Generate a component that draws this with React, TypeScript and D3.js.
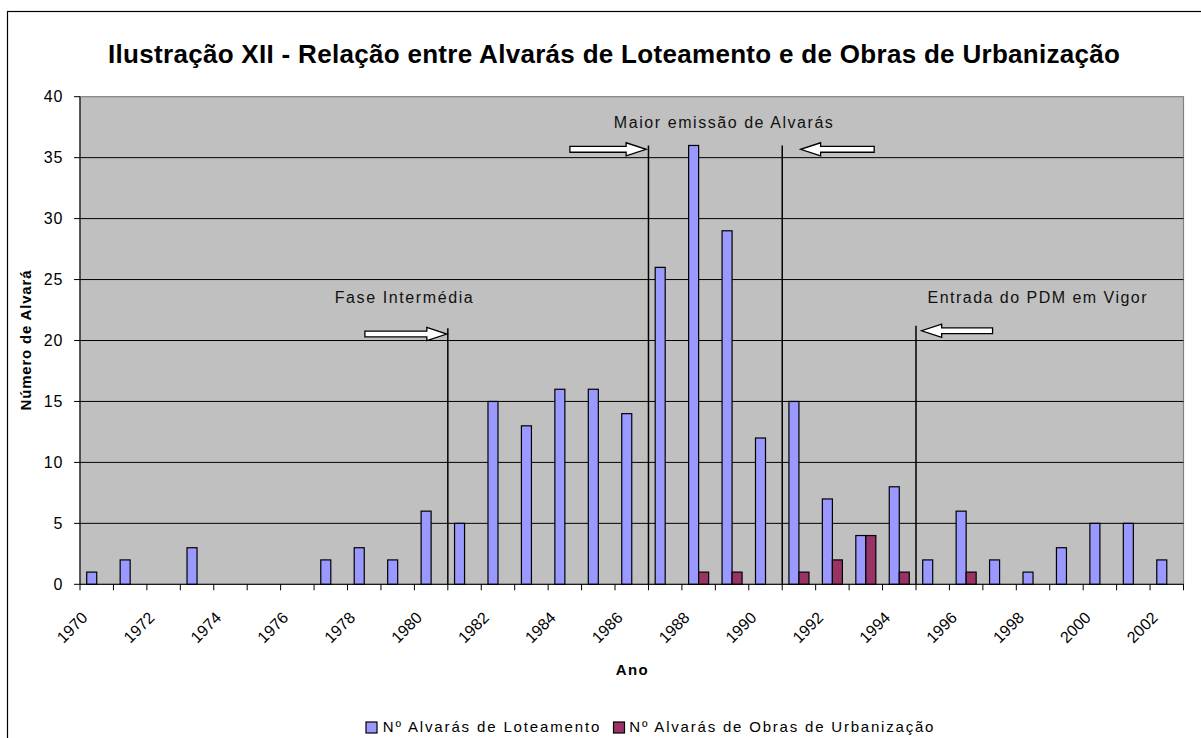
import React from 'react';
import * as d3 from 'd3';

const years = ['1970','1971','1972','1973','1974','1975','1976','1977','1978','1979','1980','1981','1982','1983','1984','1985','1986','1987','1988','1989','1990','1991','1992','1993','1994','1995','1996','1997','1998','1999','2000','2001','2002'];
const loteamento = [1,2,0,3,0,0,0,2,3,2,6,5,15,13,16,16,14,26,36,29,12,15,7,4,8,2,6,2,1,3,5,5,2];
const obras = [0,0,0,0,0,0,0,0,0,0,0,0,0,0,0,0,0,0,1,1,0,1,2,4,1,0,1,0,0,0,0,0,0];
const seriesNames = ['Nº Alvarás de Loteamento', 'Nº Alvarás de Obras de Urbanização'];
const seriesColors = ['#9999FF', '#993366'];
const yTicks = [0,5,10,15,20,25,30,35,40];
const xLabelYears = ['1970','1972','1974','1976','1978','1980','1982','1984','1986','1988','1990','1992','1994','1996','1998','2000','2002'];

const title = 'Ilustração XII - Relação entre Alvarás de Loteamento e de Obras de Urbanização';
const yTitle = 'Número de Alvará';
const xTitle = 'Ano';

// annotation data in (category-index units, value units)
const annoLines = [
  { at: 11, top: 21.0 },
  { at: 17, top: 36.0 },
  { at: 21, top: 36.0 },
  { at: 25, top: 21.2 },
];
const annoArrows = [
  { from: 8.52, to: 10.97, y: 20.53 },
  { from: 14.65, to: 16.93, y: 35.68 },
  { from: 23.75, to: 21.55, y: 35.68 },
  { from: 27.29, to: 25.17, y: 20.8 },
];
const annoTexts = [
  { text: 'Fase Intermédia', x: 9.68, y: 23.1, len: 138 },
  { text: 'Maior emissão de Alvarás', x: 19.24, y: 37.46, len: 219 },
  { text: 'Entrada do PDM em Vigor', x: 28.62, y: 23.05, len: 219 },
];

const W = 1201, H = 738;
const left = 80, right = 1183.5, top = 96.7, bottom = 584.3;
const FONT = 'Arial, "Liberation Sans", sans-serif';

export default function App() {
  const x0 = d3.scaleBand<string>().domain(years).range([left, right]).paddingInner(0).paddingOuter(0);
  const x1 = d3.scaleBand<string>().domain(seriesNames).range([0, x0.bandwidth()]).paddingInner(0).paddingOuter(0.67);
  const xu = d3.scaleLinear().domain([0, years.length]).range([left, right]);
  const y = d3.scaleLinear().domain([0, 40]).range([bottom, top]);
  const data = [loteamento, obras];

  const arrowPath = (a: { from: number; to: number; y: number }) => {
    const xs = xu(a.from), xe = xu(a.to), yc = y(a.y);
    const dir = xe > xs ? 1 : -1;
    const headLen = 20, sh = 2.9, hh = 6.6;
    const xb = xe - dir * headLen;
    return `M${xs},${yc - sh}L${xb},${yc - sh}L${xb},${yc - hh}L${xe},${yc}L${xb},${yc + hh}L${xb},${yc + sh}L${xs},${yc + sh}Z`;
  };

  const boundaries = d3.range(years.length + 1);

  return (
    <div style={{ position: 'absolute', left: 0, top: 0 }}>
      <svg width={W} height={H} style={{ display: 'block', background: '#fff' }} fontFamily={FONT}>
        {/* chart frame */}
        <rect x={7.5} y={11.5} width={1400} height={900} fill="#fff" stroke="#000" strokeWidth={1.2} />
        {/* title */}
        <text x={614} y={63.3} textAnchor="middle" fontSize={26} fontWeight="bold" textLength={1012} lengthAdjust="spacing">{title}</text>
        {/* plot area */}
        <rect x={left} y={top} width={right - left} height={bottom - top} fill="#C0C0C0" stroke="#808080" strokeWidth={1.2} />
        {yTicks.filter(t => t > 0 && t < 40).map(t => (
          <line key={'g' + t} x1={left} x2={right} y1={y(t)} y2={y(t)} stroke="#000" strokeWidth={1} />
        ))}
        {/* bars */}
        {data.map((vals, si) => vals.map((v, i) => v > 0 ? (
          <rect key={si + '-' + i}
            x={(x0(years[i]) as number) + (x1(seriesNames[si]) as number)}
            y={y(v)} width={x1.bandwidth()} height={y(0) - y(v)}
            fill={seriesColors[si]} stroke="#000" strokeWidth={1.2} />
        ) : null))}
        {/* axes */}
        <line x1={left} x2={left} y1={top} y2={bottom} stroke="#000" strokeWidth={1} />
        <line x1={left} x2={right} y1={bottom} y2={bottom} stroke="#000" strokeWidth={1} />
        {yTicks.map(t => (
          <g key={'yt' + t}>
            <line x1={left - 6} x2={left} y1={y(t)} y2={y(t)} stroke="#000" />
            <text x={63.5} y={y(t)} dy="0.36em" textAnchor="end" fontSize={16} letterSpacing={1}>{t}</text>
          </g>
        ))}
        {boundaries.map(b => (
          <line key={'xt' + b} x1={xu(b)} x2={xu(b)} y1={bottom} y2={bottom + 6} stroke="#000" />
        ))}
        {xLabelYears.map(yr => {
          const cx = (x0(yr) as number) + x0.bandwidth() / 2 - 24.7;
          const cy = bottom + 43;
          return (
            <text key={'xl' + yr} x={cx} y={cy} dy="0.36em" textAnchor="middle" fontSize={16}
              transform={`rotate(-45 ${cx} ${cy})`}>{yr}</text>
          );
        })}
        {/* axis titles */}
        <text x={(left + right) / 2} y={675} textAnchor="middle" fontSize={15} fontWeight="bold" textLength={32} lengthAdjust="spacing">{xTitle}</text>
        <text transform={`translate(31 ${(top + bottom) / 2}) rotate(-90)`} textAnchor="middle" fontSize={15} fontWeight="bold" textLength={140} lengthAdjust="spacing">{yTitle}</text>
        {/* annotations */}
        {annoLines.map((l, i) => (
          <line key={'al' + i} x1={xu(l.at)} x2={xu(l.at)} y1={y(0)} y2={y(l.top)} stroke="#000" strokeWidth={1.5} />
        ))}
        {annoArrows.map((a, i) => (
          <path key={'aa' + i} d={arrowPath(a)} fill="#fff" stroke="#000" strokeWidth={1.3} strokeLinejoin="miter" />
        ))}
        {annoTexts.map((t, i) => (
          <text key={'at' + i} x={xu(t.x)} y={y(t.y)} textAnchor="middle" fontSize={16} textLength={t.len} lengthAdjust="spacing" fill="#111">{t.text}</text>
        ))}
        {/* legend */}
        <g>
          <rect x={366} y={722} width={11} height={11} fill={seriesColors[0]} stroke="#000" strokeWidth={1.2} />
          <text x={382.7} y={732.3} fontSize={15} textLength={216.6} lengthAdjust="spacing">{seriesNames[0]}</text>
          <rect x={613.5} y={722} width={11} height={11} fill={seriesColors[1]} stroke="#000" strokeWidth={1.2} />
          <text x={629.3} y={732.3} fontSize={15} letterSpacing={1.8}>{seriesNames[1]}</text>
        </g>
      </svg>
    </div>
  );
}
